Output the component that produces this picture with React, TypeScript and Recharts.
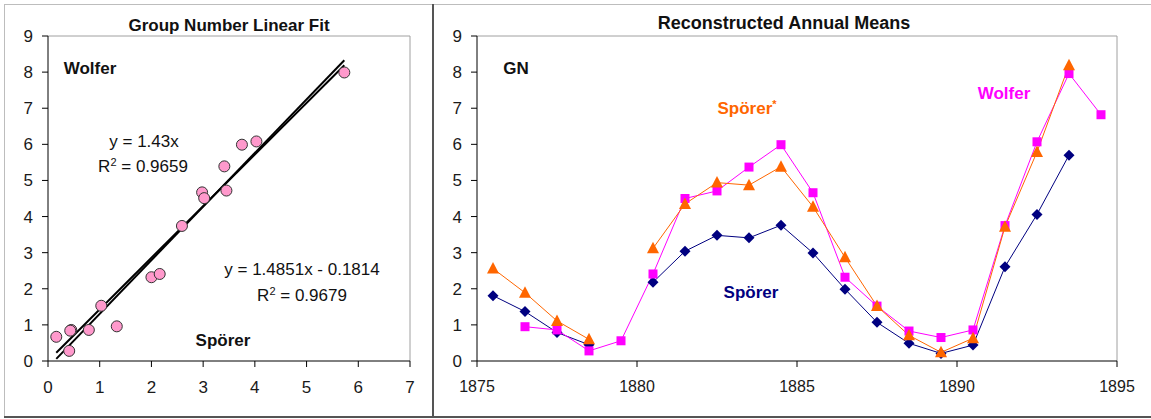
import React from 'react';
import { ScatterChart, Scatter, ComposedChart, Line, XAxis, YAxis, ReferenceLine } from 'recharts';

const FONT = '"Liberation Sans", Arial, Helvetica, sans-serif';

// left panel: Spörer group number (x) against Wolfer group number (y)
const sporerX = [0.16, 0.45, 0.41, 0.43, 0.79, 1.03, 1.33, 2.0, 2.16, 2.59, 2.98, 3.02, 3.41, 3.45, 3.75, 4.03, 5.73];
const wolferY = [0.67, 0.86, 0.28, 0.84, 0.86, 1.53, 0.96, 2.32, 2.41, 3.74, 4.67, 4.51, 5.39, 4.72, 5.99, 6.08, 7.99];

// trendline end points as drawn
const fitOriginX = [0.16, 5.73];
const fitOriginY = [0.23, 8.19];
const fitInterceptX = [0.16, 5.73];
const fitInterceptY = [0.06, 8.33];

const scatterTicksX = [0, 1, 2, 3, 4, 5, 6, 7];
const ticksY = [0, 1, 2, 3, 4, 5, 6, 7, 8, 9];

// right panel: annual means
const years = [1875.5, 1876.5, 1877.5, 1878.5, 1879.5, 1880.5, 1881.5, 1882.5, 1883.5, 1884.5,
  1885.5, 1886.5, 1887.5, 1888.5, 1889.5, 1890.5, 1891.5, 1892.5, 1893.5, 1894.5];
const sporer = [1.81, 1.37, 0.79, 0.45, null, 2.18, 3.04, 3.48, 3.41, 3.76,
  2.99, 1.99, 1.07, 0.49, 0.21, 0.44, 2.61, 4.06, 5.70, null];
const wolfer = [null, 0.95, 0.86, 0.28, 0.56, 2.41, 4.50, 4.71, 5.37, 5.99,
  4.66, 2.32, 1.52, 0.83, 0.65, 0.86, 3.75, 6.07, 7.96, 6.82];
const sporerStar = [2.56, 1.89, 1.11, 0.60, null, 3.12, 4.35, 4.94, 4.87, 5.38,
  4.27, 2.87, 1.52, 0.71, 0.24, 0.63, 3.72, 5.79, 8.19, null];
const yearTicks = [1875, 1880, 1885, 1890, 1895];

const NAVY = '#000080';
const MAGENTA = '#FF00FF';
const ORANGE = '#FF6600';

const points = sporerX.map((x, i) => ({ x, y: wolferY[i] }));
const fitOrigin = fitOriginX.map((x, i) => ({ x, y: fitOriginY[i] }));
const fitIntercept = fitInterceptX.map((x, i) => ({ x, y: fitInterceptY[i] }));
const annual = years.map((year, i) => ({ year, sporer: sporer[i], wolfer: wolfer[i], sporerStar: sporerStar[i] }));

const tickStyle = { fill: '#1a1a1a', fontSize: 17, fontFamily: FONT };

const PinkDot = (props: any) => (
  <circle cx={props.cx} cy={props.cy} r={5.5} fill="#FF99CC" stroke="#333" strokeWidth={1} />
);
const NoMarker = () => <g />;

const diamond = (p: any) => {
  if (p.value == null || p.cx == null) return <g key={`d${p.index}`} />;
  const r = 5.5;
  return <path key={`d${p.index}`} d={`M${p.cx},${p.cy - r}L${p.cx + r},${p.cy}L${p.cx},${p.cy + r}L${p.cx - r},${p.cy}Z`} fill={NAVY} />;
};
const square = (p: any) => {
  if (p.value == null || p.cx == null) return <g key={`s${p.index}`} />;
  const h = 4.5;
  return <rect key={`s${p.index}`} x={p.cx - h} y={p.cy - h} width={h * 2} height={h * 2} fill={MAGENTA} />;
};
const triangle = (p: any) => {
  if (p.value == null || p.cx == null) return <g key={`t${p.index}`} />;
  return <path key={`t${p.index}`} d={`M${p.cx},${p.cy - 6.5}L${p.cx + 6},${p.cy + 5}L${p.cx - 6},${p.cy + 5}Z`} fill={ORANGE} />;
};

const Label = ({ x, y, color = '#111', bold = false, size = 17, children }: any) => (
  <div style={{
    position: 'absolute', left: x, top: y, transform: 'translate(-50%, -50%)', whiteSpace: 'nowrap',
    color, fontWeight: bold ? 'bold' : 'normal', fontSize: size, fontFamily: FONT, lineHeight: 1,
  }}>{children}</div>
);

export default function App() {
  return (
    <div style={{ position: 'absolute', left: 0, top: 0, width: 1151, height: 419, background: '#fff', fontFamily: FONT, overflow: 'hidden' }}>
      {/* frames */}
      <div style={{ position: 'absolute', left: 4, top: 4, width: 1147, height: 1, background: '#bdbdbd' }} />
      <div style={{ position: 'absolute', left: 4, top: 4, width: 1, height: 413, background: '#bdbdbd' }} />
      <div style={{ position: 'absolute', left: 432, top: 4, width: 2, height: 414, background: '#555' }} />
      <div style={{ position: 'absolute', left: 4, top: 416, width: 1147, height: 2, background: '#555' }} />

      <div style={{ position: 'absolute', left: 0, top: 0 }}>
        <ScatterChart width={430} height={419} margin={{ top: 36, right: 20, bottom: 28, left: 0 }}>
          <XAxis type="number" dataKey="x" domain={[0, 7]} ticks={scatterTicksX} interval={0} height={30}
            axisLine={{ stroke: '#000' }} tickLine={{ stroke: '#000' }} tickSize={6} tickMargin={14} tick={tickStyle} />
          <YAxis type="number" dataKey="y" domain={[0, 9]} ticks={ticksY} interval={0} width={48}
            axisLine={{ stroke: '#000' }} tickLine={{ stroke: '#000' }} tickSize={6} tickMargin={9} tick={tickStyle} />
          <ReferenceLine y={9} stroke="#a0a0a0" />
          <ReferenceLine x={7} stroke="#a0a0a0" />
          <Scatter data={fitOrigin} line={{ stroke: '#000', strokeWidth: 2 }} shape={NoMarker} isAnimationActive={false} />
          <Scatter data={fitIntercept} line={{ stroke: '#000', strokeWidth: 2 }} shape={NoMarker} isAnimationActive={false} />
          <Scatter data={points} shape={PinkDot} isAnimationActive={false} />
        </ScatterChart>
      </div>

      <div style={{ position: 'absolute', left: 430, top: 0 }}>
        <ComposedChart width={721} height={419} data={annual} margin={{ top: 36, right: 34, bottom: 28, left: 0 }}>
          <XAxis type="number" dataKey="year" domain={[1875, 1895]} ticks={yearTicks} interval={0} height={30}
            axisLine={{ stroke: '#000' }} tickLine={{ stroke: '#000' }} tickSize={6} tickMargin={14} tick={{ ...tickStyle, fontSize: 16 }} />
          <YAxis type="number" domain={[0, 9]} ticks={ticksY} interval={0} width={47}
            axisLine={{ stroke: '#000' }} tickLine={{ stroke: '#000' }} tickSize={6} tickMargin={9} tick={tickStyle} />
          <ReferenceLine y={9} stroke="#a0a0a0" />
          <ReferenceLine x={1895} stroke="#a0a0a0" />
          <Line dataKey="sporer" stroke={NAVY} strokeWidth={1} dot={diamond} activeDot={false} isAnimationActive={false} />
          <Line dataKey="wolfer" stroke={MAGENTA} strokeWidth={1} dot={square} activeDot={false} isAnimationActive={false} />
          <Line dataKey="sporerStar" stroke={ORANGE} strokeWidth={1} dot={triangle} activeDot={false} isAnimationActive={false} />
        </ComposedChart>
      </div>

      {/* titles and annotations */}
      <Label x={229} y={25} bold>Group Number Linear Fit</Label>
      <Label x={90} y={68} bold>Wolfer</Label>
      <Label x={144} y={141}>y = 1.43x</Label>
      <Label x={143} y={166}>R<sup style={{ fontSize: 11 }}>2</sup> = 0.9659</Label>
      <Label x={302} y={269}>y = 1.4851x - 0.1814</Label>
      <Label x={302} y={295}>R<sup style={{ fontSize: 11 }}>2</sup> = 0.9679</Label>
      <Label x={223} y={340} bold>Spörer</Label>

      <Label x={784} y={23} bold size={18}>Reconstructed Annual Means</Label>
      <Label x={516} y={68} bold>GN</Label>
      <Label x={747} y={108} bold color={ORANGE}>Spörer<sup style={{ fontSize: 11 }}>*</sup></Label>
      <Label x={1004} y={93} bold color={MAGENTA}>Wolfer</Label>
      <Label x={751} y={292} bold color={NAVY}>Spörer</Label>
    </div>
  );
}
